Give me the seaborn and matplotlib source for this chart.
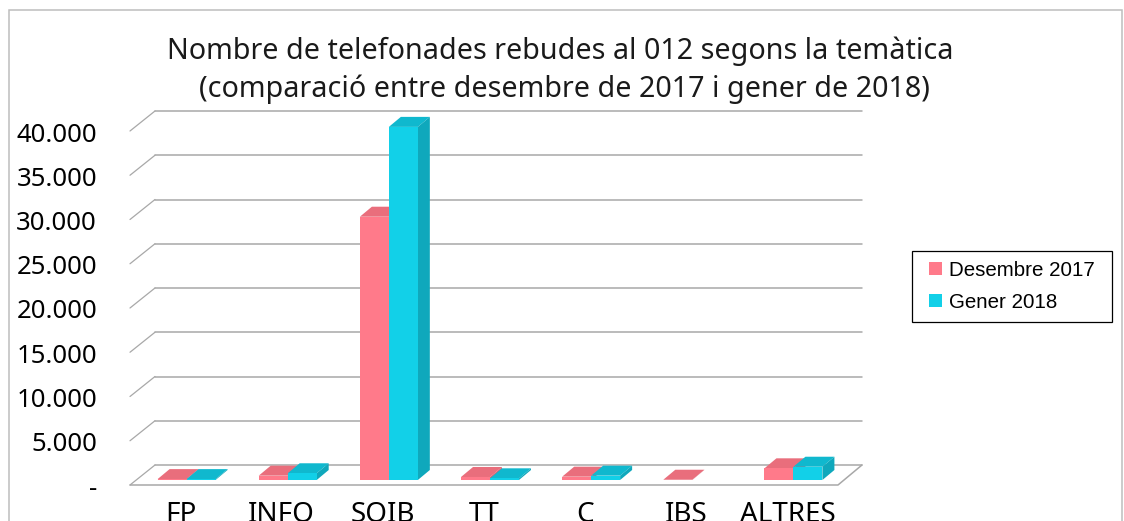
import pandas as pd
import seaborn as sns
import matplotlib.pyplot as plt
from matplotlib.patches import Polygon, Rectangle
from matplotlib.transforms import ScaledTranslation

categories = ["FP", "INFO", "SOIB", "TT", "C", "IBS", "ALTRES"]
desembre_2017 = [100, 490, 29750, 340, 375, 30, 1320]
gener_2018 = [100, 760, 39900, 190, 490, 0, 1500]
tick_values = [0, 5000, 10000, 15000, 20000, 25000, 30000, 35000, 40000]
tick_labels = ["-", "5.000", "10.000", "15.000", "20.000", "25.000", "30.000", "35.000", "40.000"]
series_names = ["Desembre 2017", "Gener 2018"]

W, H = 1124, 521
FRONT = {"Desembre 2017": "#ff7a8a", "Gener 2018": "#12d0e8"}
TOP = {"Desembre 2017": "#e96e7c", "Gener 2018": "#10b8ce"}
SIDE = {"Desembre 2017": "#d96472", "Gener 2018": "#0fa8bc"}
GRID = "#a8a8a8"

df = pd.DataFrame({
    "tema": categories * 2,
    "valor": desembre_2017 + gener_2018,
    "serie": [series_names[0]] * 7 + [series_names[1]] * 7,
})

sns.set_theme(style="white")
plt.rcParams["font.family"] = ["Noto Sans", "DejaVu Sans"]

fig = plt.figure(figsize=(W / 100, H / 100), dpi=100)

# marc del grafic, tallat per baix
fig.add_artist(Rectangle((8.5 / W, -0.05), 1113.5 / W, (H - 10) / H + 0.05, transform=fig.transFigure,
                         fill=False, edgecolor="#bdbdbd", linewidth=1.1))

# els eixos son el pla on s'assenten les barres
ax = fig.add_axes([136 / W, (H - 480) / H, 708 / W, 354 / H])
ax.patch.set_alpha(0)

sns.barplot(data=df, x="tema", y="valor", hue="serie", order=categories, hue_order=series_names,
            palette=FRONT, width=0.573, saturation=1, gap=0, linewidth=0, ax=ax)

ax.set_xlim(-0.5, 6.5)
ax.set_ylim(0, 40000)
ax.set_xlabel("")
ax.set_ylabel("")
sns.despine(ax=ax, left=True, bottom=True)

# pixels -> unitats de dades
ux = 1 / (708 / 7)
uy = 40000 / 354

# gridlines de la paret del fons i diagonals
for v in tick_values:
    y_back = v + 15 * uy
    y_front = v - 5 * uy
    x0, x1 = -0.5 + 19 * ux, -0.5 + 726 * ux
    ax.plot([x0, x1], [y_back, y_back], color=GRID, lw=1.1, zorder=1, clip_on=False)
    ax.plot([-0.5 - 6 * ux, x0], [y_front, y_back], color=GRID, lw=0.9, zorder=1, clip_on=False)

# terra
ax.plot([-0.5 - 6 * ux, -0.5 + 702 * ux, -0.5 + 726 * ux],
        [-5 * uy, -5 * uy, 15 * uy], color=GRID, lw=1.1, zorder=1, clip_on=False)

# cara superior i lateral de cada barra
dx, dy = 12 * ux, 10 * uy
for i, (name, cont) in enumerate(zip(series_names, ax.containers)):
    for bar in cont:
        h = bar.get_height()
        bar.set_zorder(2.5 + i)
        bar.set_clip_on(False)
        if h <= 0:
            continue
        x0 = bar.get_x()
        x1 = x0 + bar.get_width()
        top = Polygon([(x0, h), (x1, h), (x1 + dx, h + dy), (x0 + dx, h + dy)],
                      facecolor=TOP[name], edgecolor="none", zorder=2 + i, clip_on=False)
        side = Polygon([(x1, 0), (x1 + dx, dy), (x1 + dx, h + dy), (x1, h)],
                       facecolor=SIDE[name], edgecolor="none", zorder=2 + i, clip_on=False)
        ax.add_patch(top)
        ax.add_patch(side)

ax.set_yticks(tick_values)
ax.set_yticklabels(tick_labels)
ax.set_xticks(range(7))
ax.set_xticklabels(categories)
ax.tick_params(axis="y", length=0, pad=0, labelsize=18.5, labelcolor="black")
ax.tick_params(axis="x", length=0, pad=0, labelsize=20, labelcolor="black")

# les etiquetes van al pla frontal, no al de les barres
for lab in ax.get_yticklabels():
    lab.set_transform(lab.get_transform() + ScaledTranslation(-39 / 100, -6 / 100, fig.dpi_scale_trans))
for lab in ax.get_xticklabels():
    lab.set_transform(lab.get_transform() + ScaledTranslation(-6 / 100, -21.5 / 100, fig.dpi_scale_trans))

fig.text(564 / W, 1 - 70 / H,
         "Nombre de telefonades rebudes al 012 segons la temàtica \n(comparació entre desembre de 2017 i gener de 2018)",
         ha="center", va="center", multialignment="center", fontsize=20.65, color="#1a1a1a", linespacing=1.37)

# caixa de la llegenda a part, per poder fixar-ne la mida
fig.add_artist(Rectangle((912 / W, 1 - 322 / H), 200 / W, 71 / H, transform=fig.transFigure,
                         facecolor="white", edgecolor="black", linewidth=0.9, zorder=-1))

handles, labels = ax.get_legend_handles_labels()
leg = ax.legend(handles, labels, loc="upper left", bbox_to_anchor=(929 / W, 1 - 261 / H),
                bbox_transform=fig.transFigure, frameon=False, borderaxespad=0, borderpad=0,
                handlelength=0.63, handleheight=0.63, handletextpad=0.34, labelspacing=0.62,
                labelcolor="black", prop={"family": "Liberation Sans", "size": 14.8})

fig.savefig("out.png", dpi=100)
